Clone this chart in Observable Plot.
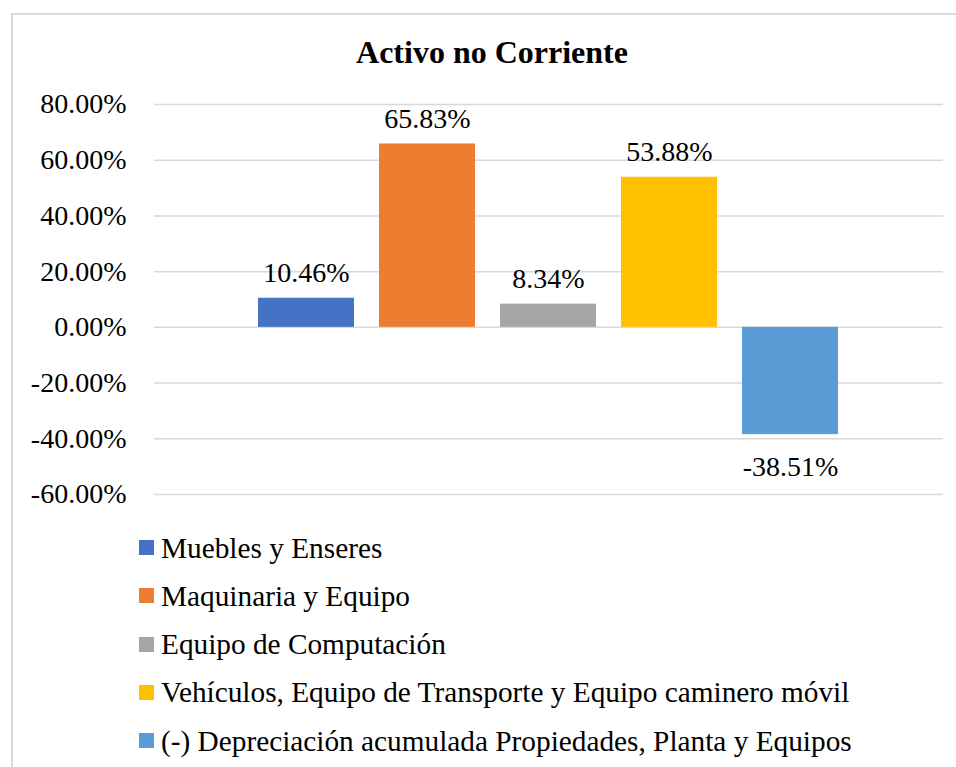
<!DOCTYPE html>
<html>
<head>
<meta charset="utf-8">
<script src="https://cdn.jsdelivr.net/npm/d3@7"></script>
<script src="https://cdn.jsdelivr.net/npm/@observablehq/plot@0.6"></script>
<style>
  html, body { margin: 0; padding: 0; background: #fff; overflow: hidden; }
  body { width: 956px; height: 767px; position: relative; font-family: "Liberation Serif", "Times New Roman", serif; }
  #frame { position: absolute; left: 11px; top: 13px; width: 970px; height: 800px; border: 2px solid #d9d9d9; box-sizing: border-box; }
  #title { position: absolute; left: 12px; width: 960px; top: 36px; text-align: center; font-weight: bold; font-size: 32px; line-height: 32px; color: #000; }
  #chart { position: absolute; left: 0; top: 80px; }
  #chart svg, #chart svg text { font-family: "Liberation Serif", "Times New Roman", serif !important; }
  #legend { position: absolute; left: 139px; top: 523.5px; }
  .row { display: flex; align-items: center; height: 48.3px; }
  .sw { width: 15px; height: 15px; margin-right: 7px; flex: none; }
  .lbl { font-size: 29.3px; line-height: 48.3px; color: #000; white-space: nowrap; }
</style>
</head>
<body>
<div id="frame"></div>
<div id="title">Activo no Corriente</div>
<div id="chart"></div>
<div id="legend"></div>
<script>
const categories = [
  "Muebles y Enseres",
  "Maquinaria y Equipo",
  "Equipo de Computación",
  "Vehículos, Equipo de Transporte y Equipo caminero móvil",
  "(-) Depreciación acumulada Propiedades, Planta y Equipos"
];
const values = [0.1046, 0.6583, 0.0834, 0.5388, -0.3851];
const colors = ["#4472C4", "#ED7D31", "#A5A5A5", "#FFC000", "#5B9BD5"];
const yTicks = [-0.6, -0.4, -0.2, 0, 0.2, 0.4, 0.6, 0.8];

const data = categories.map((c, i) => ({category: c, value: values[i]}));
const pct = v => (Math.abs(v) < 1e-9 ? 0 : v * 100).toFixed(2) + "%";
const font = "Liberation Serif";

const chart = Plot.plot({
  width: 956,
  height: 440,
  marginLeft: 154,
  marginRight: 13,
  marginTop: 24,
  marginBottom: 26,
  style: {fontFamily: font, fontSize: "28px", color: "#000", background: "transparent"},
  x: {domain: categories, paddingInner: 0.2066, paddingOuter: 0.863, align: 0.5, axis: null},
  y: {domain: [-0.6, 0.8], axis: null},
  color: {domain: categories, range: colors},
  marks: [
    Plot.gridY(yTicks, {stroke: "#d9d9d9", strokeOpacity: 1, strokeWidth: 1.5}),
    Plot.axisY(yTicks, {tickSize: 0, tickPadding: 28, tickFormat: pct, label: null, fontSize: 28, fontFamily: font, fill: "#000"}),
    Plot.barY(data, {x: "category", y: "value", fill: "category", inset: 0}),
    Plot.text(data.filter(d => d.value >= 0), {x: "category", y: "value", text: d => pct(d.value), lineAnchor: "bottom", dy: -16, fontSize: 28, fontFamily: font, fill: "#000"}),
    Plot.text(data.filter(d => d.value < 0), {x: "category", y: "value", text: d => pct(d.value), lineAnchor: "bottom", dy: 41, fontSize: 28, fontFamily: font, fill: "#000"})
  ]
});
document.getElementById("chart").appendChild(chart);

const legend = document.getElementById("legend");
categories.forEach((c, i) => {
  const row = document.createElement("div");
  row.className = "row";
  const sw = document.createElement("span");
  sw.className = "sw";
  sw.style.background = colors[i];
  const lbl = document.createElement("span");
  lbl.className = "lbl";
  lbl.textContent = c;
  row.appendChild(sw);
  row.appendChild(lbl);
  legend.appendChild(row);
});
</script>
</body>
</html>
